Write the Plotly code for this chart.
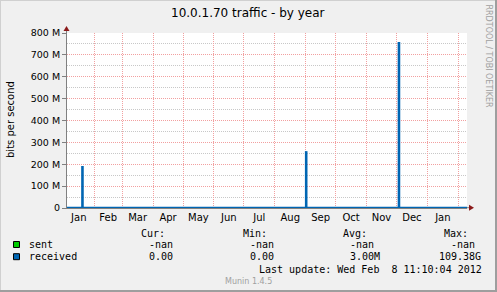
import plotly.graph_objects as go

# ---- data ----
range_start = "2011-01-04 17:00"
range_end = "2012-02-09 17:00"
spike_dates = ["2011-01-20 05:00", "2011-09-01 12:00", "2011-12-03 12:00"]
spike_values = [192e6, 260e6, 759e6]
baseline_dates = ["2011-01-04 17:00", "2012-02-09 17:00"]
baseline_values = [0, 0]
ytick_vals = [0, 100e6, 200e6, 300e6, 400e6, 500e6, 600e6, 700e6, 800e6]
ytick_text = ["0", "100 M", "200 M", "300 M", "400 M", "500 M", "600 M", "700 M", "800 M"]
yminor_vals = [50e6, 150e6, 250e6, 350e6, 450e6, 550e6, 650e6, 750e6]
title_text = "10.0.1.70 traffic - by year"
ytitle_text = "bits per second"
legend_headers = ["Cur:", "Min:", "Avg:", "Max:"]
series_names = ["sent", "received"]
series_colors = ["#00cc00", "#0066b3"]
sent_stats = ["-nan", "-nan", "-nan", "-nan"]
received_stats = ["0.00", "0.00", "3.00M", "109.38G"]
last_update = "Last update: Wed Feb\u00a0\u00a08 11:10:04 2012"
footer = "Munin 1.4.5"
side_text = "RRDTOOL / TOBI OETIKER"

# ---- geometry helpers (pixel -> paper) ----
L, R, T, B = 67, 467, 33, 208
W, H = R - L, B - T


def px(x):
    return (x - L) / W


def py(y):
    return (B - y) / H


fig = go.Figure()
fig.add_trace(go.Bar(x=spike_dates, y=spike_values, width=2.6 * 86400000,
                     marker=dict(color=series_colors[1], line=dict(width=0)),
                     showlegend=False, hoverinfo="skip"))
fig.add_trace(go.Scatter(x=baseline_dates, y=baseline_values, mode="lines",
                         line=dict(color=series_colors[1], width=2.5),
                         showlegend=False, hoverinfo="skip", cliponaxis=False))

grid_red = "#f2a0a0"
mono = "DejaVu Sans Mono"
sans = "DejaVu Sans"

ann = []
ann.append(dict(text=title_text, x=px(248), y=py(13), xref="paper", yref="paper",
                showarrow=False, font=dict(family=sans, size=12, color="#000"),
                xanchor="center", yanchor="middle"))
ann.append(dict(text=ytitle_text, x=px(10), y=py(120), xref="paper", yref="paper",
                showarrow=False, textangle=-90, font=dict(family=sans, size=10, color="#000"),
                xanchor="center", yanchor="middle"))
ann.append(dict(text=side_text, x=px(488.5), y=py(56), xref="paper", yref="paper",
                showarrow=False, textangle=90, font=dict(family=sans, size=8, color="#a0a0a0"),
                xanchor="center", yanchor="middle"))
ann.append(dict(text=footer, x=px(248), y=py(281), xref="paper", yref="paper",
                showarrow=False, font=dict(family=sans, size=8, color="#a0a0a0"),
                xanchor="center", yanchor="middle"))

header_right = [167, 268.5, 368.5, 470]
for t, xr in zip(legend_headers, header_right):
    ann.append(dict(text=t, x=px(xr), y=py(233), xref="paper", yref="paper", showarrow=False,
                    font=dict(family=mono, size=10, color="#000"), xanchor="right", yanchor="middle"))

rows_y = [244.5, 256.7]
stats_right = [[175, 276, 376, 476.7], [175, 276, 382, 483]]
for name, col, stats, yy, rights in zip(series_names, series_colors, [sent_stats, received_stats],
                                         rows_y, stats_right):
    ann.append(dict(text=name, x=px(27), y=py(yy), xref="paper", yref="paper", showarrow=False,
                    font=dict(family=mono, size=10, color="#000"), xanchor="left", yanchor="middle"))
    for s, xr in zip(stats, rights):
        ann.append(dict(text=s, x=px(xr), y=py(yy), xref="paper", yref="paper", showarrow=False,
                        font=dict(family=mono, size=10, color="#000"), xanchor="right", yanchor="middle"))
ann.append(dict(text=last_update, x=px(483.5), y=py(269), xref="paper", yref="paper", showarrow=False,
                font=dict(family=mono, size=10, color="#000"), xanchor="right", yanchor="middle"))

shapes = []
# legend squares
for col, yy in zip(series_colors, rows_y):
    shapes.append(dict(type="rect", xref="paper", yref="paper", x0=px(13.5), x1=px(19.5),
                       y0=py(yy - 3), y1=py(yy + 3), fillcolor=col, line=dict(color="#000", width=1)))
# y-axis extension above plot & arrow
shapes.append(dict(type="line", xref="paper", yref="paper", x0=px(66.5), x1=px(66.5), y0=py(33), y1=py(30),
                   line=dict(color="#808080", width=1)))
shapes.append(dict(type="path", xref="paper", yref="paper",
                   path=f"M {px(63.5)} {py(31)} L {px(69.5)} {py(31)} L {px(66.5)} {py(26)} Z",
                   fillcolor="#8b1a1a", line=dict(width=0)))
# x-axis extension & arrow
shapes.append(dict(type="line", xref="paper", yref="paper", x0=px(467), x1=px(470), y0=py(207.7), y1=py(207.7),
                   line=dict(color="#808080", width=1)))
shapes.append(dict(type="path", xref="paper", yref="paper",
                   path=f"M {px(469)} {py(204.7)} L {px(469)} {py(210.7)} L {px(474)} {py(207.7)} Z",
                   fillcolor="#8b1a1a", line=dict(width=0)))
# outer border
shapes.append(dict(type="line", xref="paper", yref="paper", x0=px(0), x1=px(497), y0=py(0.5), y1=py(0.5),
                   line=dict(color="#d0d0d0", width=1)))
shapes.append(dict(type="line", xref="paper", yref="paper", x0=px(0.5), x1=px(0.5), y0=py(0), y1=py(292),
                   line=dict(color="#d0d0d0", width=1)))
shapes.append(dict(type="line", xref="paper", yref="paper", x0=px(0), x1=px(497), y0=py(291), y1=py(291),
                   line=dict(color="#9e9e9e", width=2)))
shapes.append(dict(type="line", xref="paper", yref="paper", x0=px(496), x1=px(496), y0=py(0), y1=py(292),
                   line=dict(color="#9e9e9e", width=2)))

fig.update_layout(
    width=497, height=292,
    margin=dict(l=L, r=497 - R, t=T, b=292 - B),
    paper_bgcolor="#f0f0f0", plot_bgcolor="#ffffff",
    barmode="overlay", showlegend=False,
    annotations=ann, shapes=shapes,
    font=dict(family=sans, size=10, color="#000"),
)
fig.update_xaxes(
    type="date", range=[range_start, range_end],
    tick0="2011-01-01", dtick="M1", ticklabelmode="period", tickformat="%b",
    showgrid=True, gridcolor=grid_red, griddash="1px,1px", gridwidth=1,
    ticks="", tickfont=dict(family=sans, size=10, color="#000"),
    showline=True, linecolor="#808080", linewidth=1, zeroline=False, fixedrange=True,
)
fig.update_yaxes(
    range=[0, 800e6], tickvals=ytick_vals, ticktext=ytick_text,
    showgrid=True, gridcolor=grid_red, griddash="1px,1px", gridwidth=1,
    minor=dict(tickvals=yminor_vals, showgrid=True, gridcolor="#c8c8c8", griddash="1px,1px", ticklen=0),
    ticks="outside", ticklen=4, tickcolor="#808080",
    tickfont=dict(family=sans, size=9.5, color="#000"),
    showline=True, linecolor="#808080", linewidth=1, zeroline=False, fixedrange=True,
)

fig.write_html("out.html", config={"displayModeBar": False})
